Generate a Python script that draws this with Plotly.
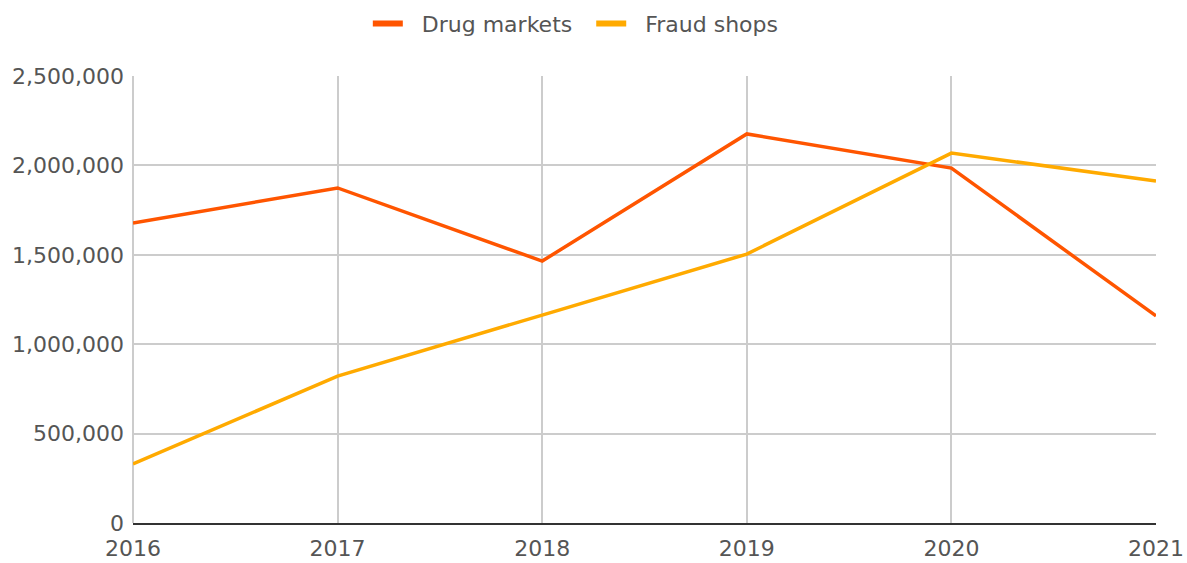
import plotly.graph_objects as go

years = [2016, 2017, 2018, 2019, 2020, 2021]
drug_markets = [1678000, 1874000, 1465000, 2176000, 1985000, 1158000]
fraud_shops = [330000, 822000, 1163000, 1504000, 2069000, 1913000]
y_ticks = [0, 500000, 1000000, 1500000, 2000000, 2500000]
y_tick_labels = ["0", "500,000", "1,000,000", "1,500,000", "2,000,000", "2,500,000"]

series = [("Drug markets", drug_markets, "#FF5500"),
          ("Fraud shops", fraud_shops, "#FFAA00")]

FONT = "'DejaVu Sans', sans-serif"
TEXT = "#555555"

fig = go.Figure()
for name, values, color in series:
    fig.add_trace(go.Scatter(x=years, y=values, name=name, mode="lines",
                             line=dict(color=color, width=3.5), showlegend=False))
# legend keys drawn as short thick bars
for name, values, color in series:
    fig.add_trace(go.Scatter(x=[None], y=[None], name="  " + name + "  ", mode="lines",
                             line=dict(color=color, width=6), showlegend=True,
                             hoverinfo="skip"))

fig.update_layout(
    width=1187, height=563,
    margin=dict(l=133, r=31, t=76, b=40),
    paper_bgcolor="white", plot_bgcolor="white",
    font=dict(family=FONT, size=22, color=TEXT),
    legend=dict(orientation="h", x=0.491, xref="container", xanchor="center",
                y=0.995, yref="container", yanchor="top",
                font=dict(size=22, color=TEXT),
                itemwidth=30, traceorder="normal"),
)
fig.update_xaxes(
    range=[2016, 2021], tickvals=years, ticktext=[str(y) for y in years],
    showgrid=True, gridcolor="#cccccc", gridwidth=2,
    showline=True, linecolor="#333333", linewidth=2, mirror=False,
    ticks="", zeroline=False, automargin=False, ticklabelstandoff=5,
    tickfont=dict(size=22, color=TEXT),
)
fig.update_yaxes(
    range=[0, 2500000], tickvals=y_ticks, ticktext=y_tick_labels,
    showgrid=True, gridcolor="#cccccc", gridwidth=2,
    zeroline=False, showline=False, ticks="", ticklabelstandoff=8,
    automargin=False, tickfont=dict(size=22, color=TEXT),
)
fig.add_shape(type="line", xref="paper", yref="paper", x0=0, x1=0, y0=0, y1=1,
              line=dict(color="#cccccc", width=2), layer="below")

fig.write_html("out.html")
